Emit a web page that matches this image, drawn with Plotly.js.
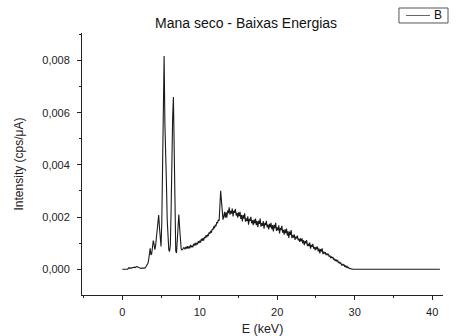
<!DOCTYPE html>
<html>
<head>
<meta charset="utf-8">
<script src="https://cdn.plot.ly/plotly-3.0.1.min.js"></script>
<style>html,body{margin:0;padding:0;background:#fff;}#chart{width:459px;height:336px;}</style>
</head>
<body>
<div id="chart"></div>
<script>
// Spectrum sampled on a uniform energy grid: E = E_START + i * E_STEP (keV)
const E_START = 0;
const E_STEP = 0.1;
const seriesName = "B";
// Intensity (cps/µA), one row per keV (10 samples each)
const intensity = [
  /* 0 */ 0,0,0,0,0,0,0,0,0.00005,0.00004,
  /* 1 */ 0.00006,0.00005,0.00004,0.00006,0.00005,0.00007,0.00008,0.00006,0.00009,0.0001,
  /* 2 */ 0.00008,0.00006,0.00004,0.00005,0.00003,0.00004,0.00003,0.00005,0.00004,0.00005,
  /* 3 */ 0.00006,0.00012,0.00015,0.00022,0.00035,0.00062,0.0008,0.00055,0.0006,0.00085,
  /* 4 */ 0.0011,0.00095,0.00075,0.0009,0.0012,0.0016,0.002,0.00208,0.0016,0.001,
  /* 5 */ 0.00087,0.0018,0.0045,0.0076,0.00818,0.0056,0.0047,0.0033,0.0019,0.0011,
  /* 6 */ 0.00075,0.00068,0.0009,0.0022,0.0048,0.0058,0.0066,0.0038,0.0016,0.0007,
  /* 7 */ 0.00062,0.0011,0.0018,0.0021,0.0016,0.001,0.00078,0.00074,0.00076,0.00082,
  /* 8 */ 0.00082,0.00076,0.00085,0.00079,0.00088,0.00079,0.00087,0.0008,0.00093,0.00084,
  /* 9 */ 0.0009,0.00084,0.00097,0.00091,0.00101,0.00092,0.00101,0.00095,0.00107,0.001,
  /*10 */ 0.00109,0.00102,0.00116,0.00109,0.00119,0.0011,0.00123,0.00119,0.0013,0.00122,
  /*11 */ 0.00133,0.00127,0.00141,0.00136,0.00147,0.0014,0.00154,0.00151,0.00164,0.00157,
  /*12 */ 0.0017,0.00165,0.00181,0.00177,0.0019,0.00186,0.00235,0.00301,0.00262,0.00205,
  /*13 */ 0.0019,0.00202,0.0022,0.00198,0.00218,0.00198,0.00225,0.00215,0.00237,0.00209,
  /*14 */ 0.00224,0.00213,0.00233,0.00202,0.00224,0.00216,0.00231,0.00206,0.00216,0.00198,
  /*15 */ 0.00218,0.00203,0.0022,0.00193,0.00208,0.00183,0.00208,0.00194,0.00214,0.00182,
  /*16 */ 0.00195,0.00184,0.00203,0.00171,0.00193,0.00185,0.00201,0.00176,0.00187,0.00169,
  /*17 */ 0.0019,0.00176,0.00194,0.00169,0.00185,0.00161,0.00186,0.00174,0.00194,0.00163,
  /*18 */ 0.00177,0.00166,0.00185,0.00155,0.00177,0.00169,0.00185,0.0016,0.00171,0.00153,
  /*19 */ 0.00174,0.0016,0.00178,0.00153,0.00169,0.00145,0.0017,0.00157,0.00178,0.00147,
  /*20 */ 0.0016,0.00149,0.00168,0.00137,0.00158,0.0015,0.00166,0.0014,0.00151,0.00132,
  /*21 */ 0.00153,0.00138,0.00156,0.00129,0.00145,0.0012,0.00144,0.00131,0.0015,0.00119,
  /*22 */ 0.00131,0.00121,0.00134,0.00112,0.00125,0.00118,0.00129,0.00111,0.00117,0.00105,
  /*23 */ 0.00118,0.00107,0.00118,0.00099,0.00111,0.00092,0.00108,0.00099,0.00111,0.00089,
  /*24 */ 0.00098,0.00088,0.00102,0.00079,0.00093,0.00086,0.00097,0.00079,0.00085,0.00073,
  /*25 */ 0.00086,0.00076,0.00086,0.00068,0.00079,0.00061,0.00077,0.00068,0.0008,0.00058,
  /*26 */ 0.00067,0.0006,0.00065,0.00054,0.0006,0.00055,0.00059,0.00049,0.00051,0.00043,
  /*27 */ 0.00049,0.00042,0.00046,0.00036,0.0004,0.00031,0.00037,0.00031,0.00035,0.00024,
  /*28 */ 0.00027,0.00022,0.00025,0.00016,0.00019,0.00015,0.00018,0.00011,0.00013,0.00007,
  /*29 */ 0.00011,0.00006,0.00007,0.00003,0.00002,0,0,0,0,0,
  /*30 */ 0,0,0,0,0,0,0,0,0,0,
  /*31 */ 0,0,0,0,0,0,0,0,0,0,
  /*32 */ 0,0,0,0,0,0,0,0,0,0,
  /*33 */ 0,0,0,0,0,0,0,0,0,0,
  /*34 */ 0,0,0,0,0,0,0,0,0,0,
  /*35 */ 0,0,0,0,0,0,0,0,0,0,
  /*36 */ 0,0,0,0,0,0,0,0,0,0,
  /*37 */ 0,0,0,0,0,0,0,0,0,0,
  /*38 */ 0,0,0,0,0,0,0,0,0,0,
  /*39 */ 0,0,0,0,0,0,0,0,0,0,
  /*40 */ 0,0,0,0,0,0,0,0,0,0,
  /*41 */ 0
];
const xTickVals = [0, 10, 20, 30, 40];
const yTickVals = [0, 0.002, 0.004, 0.006, 0.008];
const titleText = "Mana seco - Baixas Energias";
const xTitle = "E (keV)";
const yTitle = "Intensity (cps/μA)";

const FONT = "Liberation Sans, Arial, Helvetica, sans-serif";
const LINE_COLOR = "#1a1a1a";

const trace = {
  type: "scatter",
  mode: "lines",
  name: seriesName,
  x0: E_START,
  dx: E_STEP,
  y: intensity,
  line: {color: LINE_COLOR, width: 1.1},
  showlegend: false
};

// Compact Origin-style legend box (paper coordinates)
const LEG = {x0: 0.878, x1: 1.0139, y0: 1.0382, y1: 1.0954, lx0: 0.8975, lx1: 0.964, ly: 1.0668, tx: 0.985};

const layout = {
  width: 459,
  height: 336,
  margin: {l: 82, r: 16, t: 33, b: 41, pad: 0},
  paper_bgcolor: "#fff",
  plot_bgcolor: "#fff",
  separators: ",.",
  font: {family: FONT, size: 11, color: "#222"},
  title: {
    text: titleText,
    font: {family: FONT, size: 14, color: "#111"},
    xref: "container", x: 0.536, xanchor: "center",
    yref: "container", y: 0.931, yanchor: "middle"
  },
  showlegend: false,
  shapes: [
    {type: "rect", xref: "paper", yref: "paper", x0: LEG.x0, x1: LEG.x1, y0: LEG.y0, y1: LEG.y1,
     line: {color: "#555", width: 1}, fillcolor: "#fff", layer: "above"},
    {type: "line", xref: "paper", yref: "paper", x0: LEG.lx0, x1: LEG.lx1, y0: LEG.ly, y1: LEG.ly,
     line: {color: "#666", width: 1}, layer: "above"}
  ],
  annotations: [
    {xref: "paper", yref: "paper", x: LEG.tx, y: LEG.ly, text: seriesName, showarrow: false,
     xanchor: "center", yanchor: "middle", font: {family: FONT, size: 12, color: "#111"}}
  ],
  xaxis: {
    range: [-5.2, 41.4],
    tickvals: xTickVals,
    ticktext: xTickVals.map(String),
    showline: true, linecolor: "#222", linewidth: 1,
    ticks: "outside", ticklen: 4, tickcolor: "#222", tickwidth: 1,
    minor: {dtick: 5, tick0: 0, ticks: "outside", ticklen: 2, tickcolor: "#222", showgrid: false},
    showgrid: false, zeroline: false,
    tickfont: {family: FONT, size: 11, color: "#222"},
    ticklabelstandoff: 3,
    title: {text: xTitle, font: {family: FONT, size: 12.5, color: "#222"}, standoff: 11}
  },
  yaxis: {
    range: [-0.00099, 0.00906],
    tickvals: yTickVals,
    tickformat: ".3f",
    showline: true, linecolor: "#222", linewidth: 1,
    ticks: "outside", ticklen: 4, tickcolor: "#222", tickwidth: 1,
    minor: {dtick: 0.001, tick0: 0, ticks: "outside", ticklen: 2, tickcolor: "#222", showgrid: false},
    showgrid: false, zeroline: false,
    tickfont: {family: FONT, size: 11, color: "#222"},
    ticklabelstandoff: 5,
    title: {text: yTitle, font: {family: FONT, size: 12, color: "#222"}, standoff: 16}
  }
};

Plotly.newPlot("chart", [trace], layout, {displayModeBar: false, staticPlot: true});
</script>
</body>
</html>
